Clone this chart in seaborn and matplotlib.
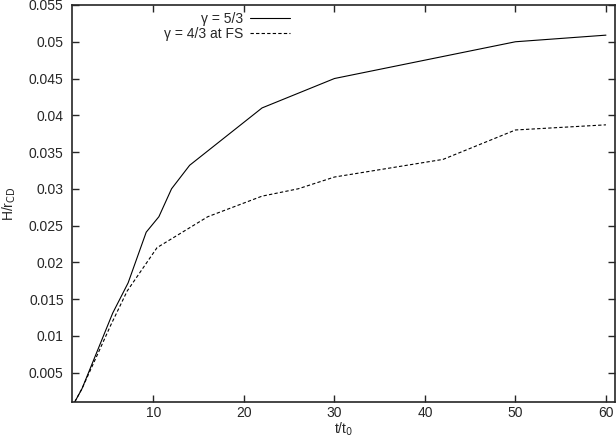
import matplotlib
matplotlib.use("Agg")
import matplotlib.pyplot as plt
import pandas as pd
import seaborn as sns

# gamma = 5/3 run
t_53 = [1.3, 2.1, 5.5, 7.2, 9.2, 10.6, 12.0, 14.0, 22.0, 30.0, 40.0, 50.0, 60.0]
h_53 = [0.001, 0.0028, 0.0131, 0.0172, 0.0241, 0.0262, 0.0300, 0.0332, 0.0410, 0.0450, 0.0475, 0.0500, 0.0509]

# gamma = 4/3 at the forward shock
t_43 = [1.3, 2.1, 5.3, 7.1, 10.4, 16.0, 22.0, 26.0, 30.0, 42.0, 50.0, 60.0]
h_43 = [0.001, 0.0028, 0.0115, 0.0161, 0.0220, 0.0262, 0.0290, 0.0300, 0.0316, 0.0340, 0.0380, 0.0387]

labels = ["γ = 5/3", "γ = 4/3 at FS"]

df = pd.concat([
    pd.DataFrame({"t": t_53, "H": h_53, "run": labels[0]}),
    pd.DataFrame({"t": t_43, "H": h_43, "run": labels[1]}),
])

sns.set_style("ticks")
plt.rcParams["font.family"] = ["Liberation Sans", "DejaVu Sans"]

fig = plt.figure(figsize=(6.16, 4.41), dpi=100)
ax = fig.add_axes([72 / 616, 39 / 441, 543 / 616, 397 / 441])

sns.lineplot(data=df, x="t", y="H", hue="run", style="run",
             palette=["black", "black"], dashes=[(None, None), (3, 2)],
             linewidth=0.8, sort=False, legend=False, ax=ax)

# legend proxies (seaborn's own legend puts the title row in)
ax.plot([], [], color="black", lw=0.8, label=labels[0])
ax.plot([], [], color="black", lw=0.8, ls=(0, (3, 2)), label=labels[1])

ax.set_xlim(1, 61)
ax.set_ylim(0.001, 0.055)
ax.set_xticks([10, 20, 30, 40, 50, 60])
ax.set_yticks([0.005, 0.01, 0.015, 0.02, 0.025, 0.03, 0.035, 0.04, 0.045, 0.05, 0.055])
ax.set_yticklabels(["0.005", "0.01", "0.015", "0.02", "0.025", "0.03", "0.035",
                    "0.04", "0.045", "0.05", "0.055"])
ax.tick_params(direction="in", length=5, width=1, labelsize=10,
               top=True, right=True, pad=6)
ax.tick_params(axis="x", pad=3)
for s in ax.spines.values():
    s.set_linewidth(1.2)

ax.set_xlabel("t/t$_0$", fontsize=10)
ax.xaxis.set_label_coords(0.5, -0.048)
ax.set_ylabel("H/r$_{\\rm CD}$", fontsize=10, labelpad=8)

ax.legend(loc="upper right", bbox_to_anchor=(0.415, 1.0), frameon=False,
          fontsize=10, markerfirst=False, handlelength=2.9, handletextpad=0.5,
          labelspacing=0.1, borderaxespad=0.3, borderpad=0.2)

fig.savefig("out.png", dpi=100)
